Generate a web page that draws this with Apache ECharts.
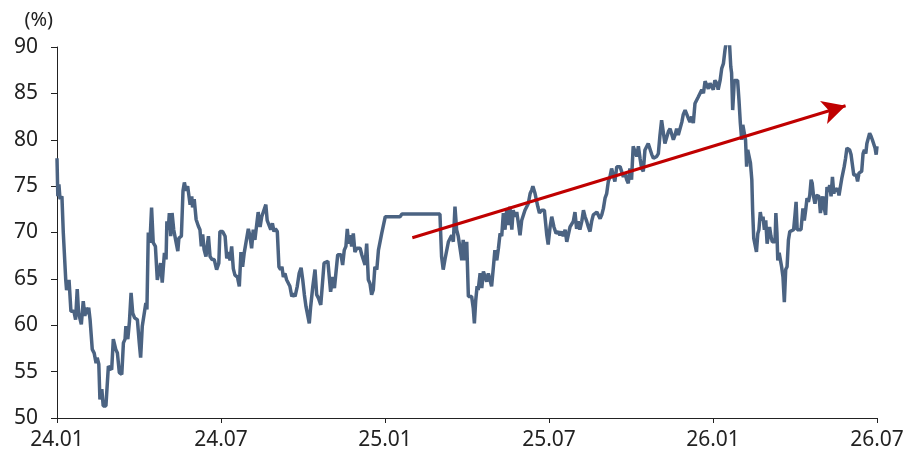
<!DOCTYPE html>
<html>
<head>
<meta charset="utf-8">
<script src="https://cdn.jsdelivr.net/npm/echarts@6/dist/echarts.min.js"></script>
<style>html,body{margin:0;padding:0;background:#fff}#c{width:920px;height:456px}</style>
</head>
<body>
<div id="c"></div>
<script>
// x: months since 2024-01 (0 = 24.01, 30 = 26.07)
const months = [0,0.03,0.07,0.11,0.18,0.23,0.32,0.35,0.44,0.51,0.62,0.68,0.74,0.79,0.89,0.96,1.02,1.06,1.12,1.16,1.21,1.29,1.36,1.43,1.47,1.53,1.57,1.64,1.69,1.79,1.88,1.94,2.00,2.06,2.15,2.21,2.28,2.37,2.43,2.49,2.52,2.59,2.65,2.71,2.77,2.84,2.94,3.01,3.06,3.12,3.18,3.25,3.29,3.34,3.40,3.46,3.52,3.60,3.67,3.73,3.79,3.85,3.93,3.99,4.02,4.07,4.11,4.16,4.21,4.27,4.34,4.42,4.46,4.55,4.61,4.66,4.72,4.78,4.83,4.87,4.93,4.96,5.02,5.09,5.17,5.23,5.28,5.33,5.38,5.45,5.54,5.60,5.67,5.75,5.84,5.92,5.96,6.06,6.15,6.21,6.27,6.33,6.39,6.45,6.51,6.60,6.67,6.73,6.79,6.85,6.91,7.00,7.06,7.12,7.18,7.24,7.31,7.36,7.43,7.49,7.55,7.64,7.69,7.76,7.82,7.88,7.94,7.99,8.06,8.12,8.18,8.23,8.28,8.34,8.40,8.46,8.52,8.59,8.65,8.71,8.79,8.86,8.93,8.99,9.05,9.11,9.17,9.23,9.28,9.36,9.44,9.50,9.57,9.65,9.71,9.77,9.84,9.91,9.96,10.01,10.09,10.15,10.21,10.27,10.33,10.39,10.45,10.51,10.57,10.62,10.67,10.72,10.78,10.84,10.90,10.97,11.02,11.09,11.15,11.21,11.27,11.33,11.39,11.45,11.51,11.57,11.63,11.70,11.76,11.82,11.88,11.94,12.01,12.55,12.62,14.01,14.07,14.13,14.20,14.26,14.32,14.38,14.44,14.50,14.56,14.62,14.68,14.74,14.81,14.86,14.93,14.99,15.05,15.11,15.17,15.23,15.27,15.32,15.37,15.41,15.48,15.54,15.60,15.66,15.72,15.78,15.85,15.90,15.96,16.02,16.09,16.15,16.21,16.27,16.33,16.39,16.45,16.51,16.57,16.64,16.69,16.76,16.82,16.88,16.94,17.00,17.06,17.12,17.18,17.24,17.31,17.37,17.41,17.49,17.59,17.65,17.73,17.83,17.92,17.97,18.04,18.10,18.18,18.26,18.34,18.40,18.46,18.52,18.59,18.65,18.71,18.77,18.83,18.89,18.95,19.01,19.07,19.13,19.20,19.26,19.32,19.38,19.44,19.50,19.56,19.62,19.68,19.75,19.80,19.87,19.93,19.99,20.05,20.11,20.17,20.23,20.29,20.35,20.41,20.48,20.54,20.60,20.66,20.72,20.78,20.84,20.90,20.96,21.02,21.08,21.15,21.21,21.27,21.33,21.39,21.45,21.51,21.57,21.63,21.70,21.76,21.82,21.88,21.94,22.00,22.06,22.12,22.18,22.24,22.31,22.37,22.43,22.49,22.55,22.61,22.67,22.73,22.79,22.86,22.91,22.98,23.04,23.10,23.16,23.22,23.28,23.34,23.40,23.46,23.52,23.59,23.65,23.71,23.77,23.83,23.89,23.95,24.01,24.07,24.14,24.19,24.26,24.32,24.38,24.44,24.50,24.60,24.65,24.68,24.72,24.78,24.84,24.90,24.95,25.00,25.05,25.09,25.14,25.19,25.23,25.27,25.32,25.37,25.42,25.45,25.49,25.54,25.59,25.64,25.68,25.73,25.78,25.83,25.88,25.93,25.98,26.02,26.07,26.12,26.17,26.22,26.27,26.30,26.34,26.37,26.42,26.46,26.51,26.56,26.61,26.66,26.71,26.76,26.81,26.88,26.95,27.00,27.04,27.08,27.15,27.22,27.29,27.34,27.39,27.44,27.49,27.54,27.59,27.63,27.68,27.73,27.78,27.83,27.88,27.93,27.98,28.02,28.07,28.12,28.17,28.22,28.27,28.32,28.37,28.42,28.46,28.51,28.56,28.61,28.66,28.71,28.76,28.80,28.85,28.90,28.95,29.00,29.05,29.10,29.15,29.20,29.24,29.29,29.34,29.39,29.44,29.49,29.54,29.59,29.63,29.68,29.73,29.78,29.83,29.88,29.93,29.97,30.00];
const ratio = [78.0,73.9,75.2,73.6,73.9,70.0,64.9,63.8,64.9,61.5,61.5,60.6,63.9,61.3,60.1,62.6,61.0,61.9,61.2,61.9,60.6,57.4,57.0,55.9,56.5,55.8,52.0,53.1,51.3,51.3,55.6,55.8,55.2,58.5,57.4,57.0,54.9,54.7,58.1,58.5,59.9,58.5,60.4,63.5,61.3,60.8,60.6,58.1,56.5,59.9,59.9,62.4,61.7,70.0,68.9,72.7,68.9,68.5,64.9,65.1,66.7,64.6,67.8,67.1,71.2,70.3,72.1,69.6,72.1,70.3,69.2,68.0,69.4,69.6,74.5,75.4,74.5,75.0,75.2,73.0,73.9,72.7,73.6,71.4,70.7,70.3,68.5,69.8,68.2,67.4,69.6,67.4,67.1,67.1,66.0,66.7,70.1,70.1,69.6,67.2,67.9,67.0,68.5,66.1,65.4,65.2,64.2,67.9,66.3,67.8,67.9,70.4,69.6,68.3,70.3,69.2,69.2,72.2,70.6,71.7,71.7,73.0,71.3,71.2,70.3,71.0,70.1,70.4,70.1,66.3,66.0,66.3,65.2,65.6,64.9,64.7,64.2,63.1,63.4,63.1,64.2,65.6,66.2,64.9,63.3,62.0,62.2,60.2,62.0,64.2,66.0,63.3,62.9,62.2,62.0,66.7,66.9,66.9,67.0,63.6,65.2,64.0,64.2,67.6,67.6,67.6,66.5,68.1,68.5,70.4,68.8,69.7,68.5,69.9,67.9,68.3,68.5,68.3,67.6,67.4,66.5,68.8,64.9,64.5,63.3,63.8,66.3,66.0,68.1,68.3,69.9,70.1,71.7,71.7,72.0,72.0,67.4,66.0,67.2,67.0,69.0,68.8,69.7,69.0,72.8,70.3,69.6,69.7,67.0,69.2,67.0,69.0,63.1,62.9,63.1,61.8,60.2,62.7,64.2,63.8,65.6,64.0,65.8,65.6,64.7,65.6,65.4,64.2,66.1,68.1,67.0,68.3,69.9,69.6,72.1,70.3,72.4,70.8,72.8,70.3,72.4,71.7,72.2,71.0,69.7,71.3,71.3,72.4,72.6,73.1,74.2,74.6,75.0,74.2,72.8,72.1,72.4,72.4,69.7,68.7,70.6,71.7,70.6,69.9,70.1,69.7,70.1,69.6,70.3,69.0,68.8,70.6,70.4,71.2,72.2,70.4,71.2,70.3,71.2,72.4,71.7,71.2,70.6,70.1,71.2,71.9,71.9,72.2,72.1,71.5,71.9,72.6,73.7,74.2,75.5,76.0,76.9,76.7,75.5,77.1,77.3,77.1,77.3,76.0,76.4,75.7,75.3,76.9,75.7,79.3,79.1,78.2,79.3,78.0,76.9,76.6,78.9,78.7,79.6,79.4,78.4,78.0,77.8,78.2,78.5,80.5,82.1,82.3,79.6,79.4,80.9,81.2,81.1,80.0,80.5,81.2,80.5,80.7,81.9,82.7,83.2,83.0,82.3,81.9,82.5,81.8,83.9,84.1,84.6,84.8,85.4,85.0,86.3,86.1,85.5,86.1,86.1,85.4,86.4,86.1,85.4,86.4,87.7,88.2,89.7,90.8,90.6,87.9,87.2,83.2,86.4,86.4,86.4,84.3,81.8,80.0,81.6,81.4,80.0,77.1,78.9,78.7,77.5,75.7,72.4,69.4,69.6,67.9,69.9,70.3,72.2,71.3,71.7,70.3,71.3,68.8,69.0,70.6,69.6,69.0,69.2,69.0,72.1,69.9,67.0,67.8,67.8,66.3,65.2,62.5,66.0,66.3,69.2,70.1,70.3,70.3,71.9,73.3,70.3,70.1,70.3,72.6,71.3,72.4,73.7,73.3,74.0,75.7,75.3,73.9,73.1,74.0,74.0,73.9,72.1,71.9,73.9,72.6,71.9,74.9,74.4,75.1,73.9,76.0,74.2,74.8,74.4,74.8,74.0,74.9,75.8,76.0,77.1,78.0,79.1,79.3,78.9,78.4,78.2,76.2,76.2,76.2,75.5,76.4,76.4,76.6,78.5,78.9,78.5,79.6,79.8,80.7,80.4,80.0,80.0,79.1,78.4,79.3];
const xTickLabels = ['24.01','24.07','25.01','25.07','26.01','26.07'];
const trendFrom = [13.0, 69.44];
const trendTo = [28.85, 83.67];

const seriesData = months.map((m, i) => [m, ratio[i]]);
const FONT = 'Noto Sans';
const chart = echarts.init(document.getElementById('c'), null, {renderer: 'canvas'});
chart.setOption({
  animation: false,
  backgroundColor: '#ffffff',
  grid: {left: 57, right: 43, top: 47, bottom: 38, containLabel: false},
  xAxis: {
    type: 'value', min: 0, max: 30, interval: 6,
    axisLine: {show: true, lineStyle: {color: '#222', width: 1}},
    axisTick: {show: true, length: 5, lineStyle: {color: '#222'}},
    splitLine: {show: false},
    axisLabel: {
      margin: 12, color: '#222', fontSize: 21, fontFamily: FONT,
      formatter: v => xTickLabels[Math.round(v / 6)] || ''
    }
  },
  yAxis: {
    type: 'value', min: 50, max: 90, interval: 5,
    name: '(%)', nameLocation: 'end', nameGap: 17,
    nameTextStyle: {color: '#222', fontSize: 20, fontFamily: FONT, align: 'right', padding: [0, 4, 0, 0]},
    axisLine: {show: true, lineStyle: {color: '#222', width: 1}},
    axisTick: {show: true, length: 6, lineStyle: {color: '#222'}},
    splitLine: {show: false},
    axisLabel: {margin: 19, color: '#222', fontSize: 21, fontFamily: FONT}
  },
  series: [{
    type: 'line',
    data: seriesData,
    showSymbol: false,
    symbol: 'none',
    lineStyle: {color: '#4b6382', width: 3.5},
    clip: true,
    markLine: {
      silent: true,
      symbol: ['none', 'arrow'],
      symbolSize: [18, 23],
      label: {show: false},
      lineStyle: {color: '#c00000', width: 3, type: 'solid'},
      emphasis: {disabled: true},
      data: [[{coord: trendFrom}, {coord: trendTo}]]
    }
  }]
});
</script>
</body>
</html>
